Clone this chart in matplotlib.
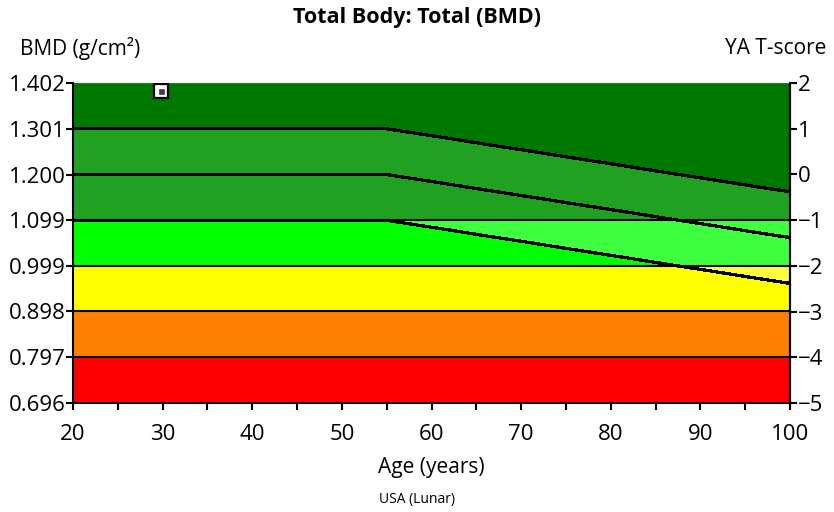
import numpy as np
import matplotlib
matplotlib.use("Agg")
import matplotlib.pyplot as plt

plt.rcParams['font.family'] = ['Open Sans', 'DejaVu Sans']

# Data
bmd_ticks = [0.696, 0.797, 0.898, 0.999, 1.099, 1.200, 1.301, 1.402]
tscore_ticks = [-5, -4, -3, -2, -1, 0, 1, 2]
ages = [20, 55, 60, 65, 70, 75, 80, 85, 90, 95, 100]
mean_bmd = [1.200, 1.200, 1.185, 1.169, 1.154, 1.138, 1.123, 1.107, 1.092, 1.076, 1.061]
sd_bmd = 0.101
patient_age = [29.8]
patient_bmd = [1.385]

band_colors = ['#ff0000', '#ff8000', '#ffff00', '#00ff00', '#21a121']
dark_green = '#007800'
light_green = '#40ff40'
light_yellow = '#ffff40'

fig = plt.figure(figsize=(8.34, 5.12), dpi=100)
ax = fig.add_axes([73/834, 1-403/512, (790-73)/834, 320/512])

ymin, ymax = bmd_ticks[0], bmd_ticks[-1]
bounds = bmd_ticks[:4] + [bmd_ticks[4], ymax]
for i, c in enumerate(band_colors):
    ax.axhspan(bounds[i], bounds[i+1], color=c, lw=0, zorder=0)

a = np.linspace(20, 100, 1601)
mean = np.interp(a, ages, mean_bmd)
upper = mean + sd_bmd
lower = mean - sd_bmd

ax.fill_between(a, upper, ymax, color=dark_green, lw=0, zorder=1)
ax.fill_between(a, np.clip(lower, bmd_ticks[3], bmd_ticks[4]), bmd_ticks[4],
                color=light_green, lw=0, zorder=1)
ax.fill_between(a, np.clip(lower, bmd_ticks[2], bmd_ticks[3]), bmd_ticks[3],
                color=light_yellow, lw=0, zorder=1)

for y in bmd_ticks[1:5]:
    ax.axhline(y, color='black', lw=1.5, zorder=2)

for curve in (upper, mean, lower):
    ax.plot(a, curve, color='black', lw=1.6, zorder=3, antialiased=False)

ax.plot(patient_age, patient_bmd, marker='s', ms=9.5, mfc='white', mec='black',
        mew=1.6, ls='none', zorder=5)
ax.plot(patient_age, patient_bmd, marker='s', ms=3.6, mfc='#404040', mec='#404040',
        mew=0.5, ls='none', zorder=6)

ax.set_xlim(20, 100)
ax.set_ylim(ymin, ymax)
ax.set_xticks(np.arange(20, 101, 10))
ax.set_xticks(np.arange(25, 100, 10), minor=True)
ax.set_yticks(bmd_ticks)
ax.set_yticklabels([f"{v:.3f}" for v in bmd_ticks])
ax.tick_params(axis='both', which='both', direction='out', length=5, width=1.5,
               labelsize=16, pad=0.5, colors='black')
ax.tick_params(axis='x', pad=10)
ax.spines['top'].set_visible(False)
for s in ['left', 'bottom', 'right']:
    ax.spines[s].set_linewidth(1.5)

ax2 = ax.twinx()
ax2.set_ylim(-5, 2)
ax2.set_yticks(tscore_ticks)
ax2.tick_params(axis='y', direction='out', length=5, width=1.5, labelsize=16, pad=0.5)
ax2.spines['top'].set_visible(False)
ax2.spines['right'].set_linewidth(1.5)
ax2.spines['left'].set_visible(False)
ax2.spines['bottom'].set_visible(False)

fig.text(417/834, 1-18/512, 'Total Body: Total (BMD)', ha='center', va='center',
         fontsize=15.5, fontweight='bold')
fig.text(20/834, 1-48/512, 'BMD (g/cm²)', ha='left', va='center', fontsize=15)
fig.text(826/834, 1-48/512, 'YA T-score', ha='right', va='center', fontsize=15)
fig.text(431/834, 1-467/512, 'Age (years)', ha='center', va='center', fontsize=15)
fig.text(417/834, 1-499/512, 'USA (Lunar)', ha='center', va='center', fontsize=10)

fig.savefig('out.png', dpi=100)
